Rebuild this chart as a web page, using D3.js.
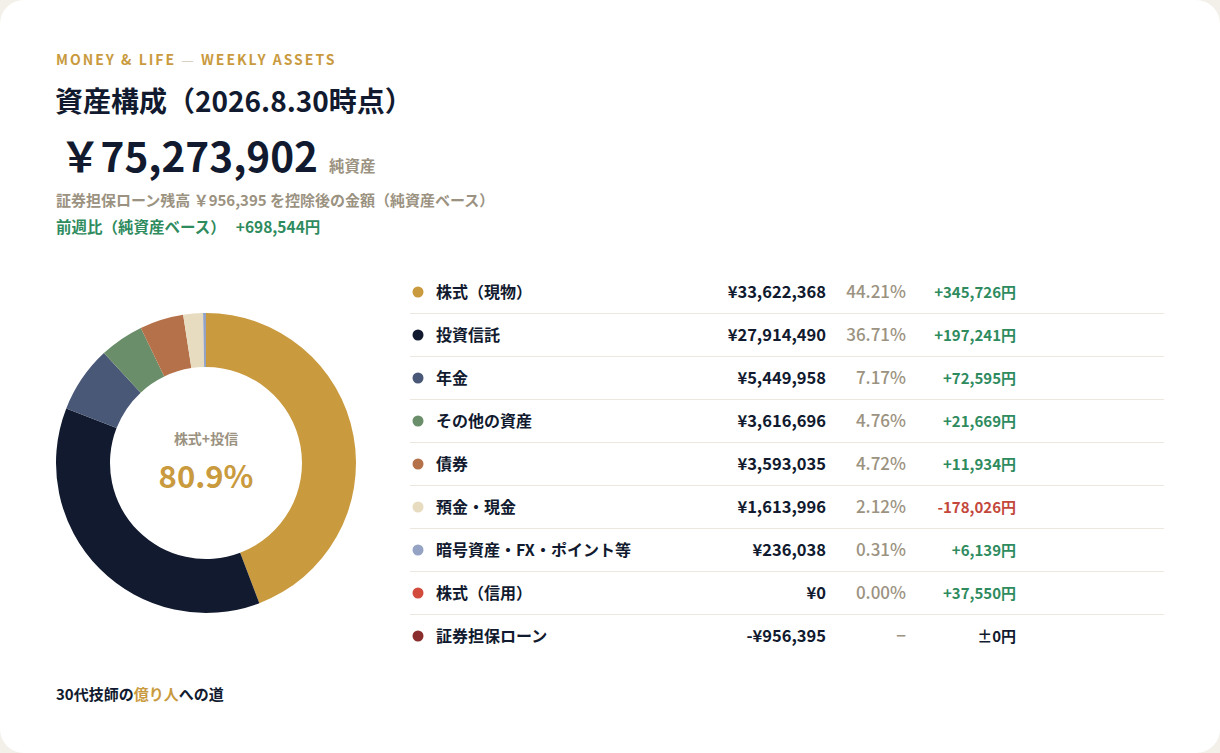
<!DOCTYPE html>
<html>
<head>
<meta charset="utf-8">
<script src="https://cdn.jsdelivr.net/npm/d3@7"></script>
<style>
  body { margin: 0; background: #f3f0ea; }
  svg { display: block; font-family: "Noto Sans CJK JP", "Noto Sans", sans-serif; }
</style>
</head>
<body>
<div id="chart"></div>
<script>
// asset categories, current value and weekly change
const categories = ["株式（現物）", "投資信託", "年金", "その他の資産", "債券", "預金・現金", "暗号資産・FX・ポイント等", "株式（信用）", "証券担保ローン"];
const values = [33622368, 27914490, 5449958, 3616696, 3593035, 1613996, 236038, 0, -956395];
const changes = [345726, 197241, 72595, 21669, 11934, -178026, 6139, 37550, 0];
const colors = ["#c99a3e", "#111a2e", "#4a5878", "#6a8e69", "#b5724a", "#e8dcc0", "#94a2c4", "#d24b3d", "#8a2d2f"];

const netAssets = 75273902;
const loanBalance = 956395;
const weeklyDiff = 698544;

const W = 1220, H = 753;
const svg = d3.select("#chart").append("svg")
    .attr("width", W)
    .attr("height", H);

svg.append("rect")
    .attr("width", W).attr("height", H)
    .attr("rx", 24)
    .attr("fill", "#ffffff");

const fmt = d3.format(",");
const gold = "#c99a3e", ink = "#111a2e", grey = "#9b9281", green = "#2e8b5e", red = "#c4473b";

// header
const head = svg.append("text")
    .attr("x", 56).attr("y", 65)
    .attr("font-size", 14).attr("font-weight", 700)
    .attr("letter-spacing", 2)
    .attr("fill", gold);
head.append("tspan").text("MONEY & LIFE");
head.append("tspan").attr("fill", "#d9d2c4").attr("font-weight", 400).text(" — ");
head.append("tspan").text("WEEKLY ASSETS");

svg.append("text")
    .attr("x", 55).attr("y", 112)
    .attr("font-size", 28).attr("font-weight", 700)
    .attr("fill", ink)
    .text("資産構成（2026.8.30時点）");

const big = svg.append("text")
    .attr("x", 60).attr("y", 172)
    .attr("fill", ink);
big.append("tspan")
    .attr("font-size", 40.5).attr("font-weight", 700)
    .text("￥" + fmt(netAssets));
big.append("tspan")
    .attr("dx", 11)
    .attr("font-size", 15.5).attr("font-weight", 700)
    .attr("fill", grey)
    .text("純資産");

svg.append("text")
    .attr("x", 56).attr("y", 206)
    .attr("font-size", 15).attr("font-weight", 700)
    .attr("fill", grey)
    .text("証券担保ローン残高 ￥" + fmt(loanBalance) + " を控除後の金額（純資産ベース）");

const diff = svg.append("text")
    .attr("x", 56).attr("y", 233)
    .attr("font-size", 15.5).attr("font-weight", 700)
    .attr("fill", green);
diff.append("tspan").text("前週比（純資産ベース）");
diff.append("tspan").attr("dx", 10).text("+" + fmt(weeklyDiff) + "円");

// donut
const pieData = categories.map((c, i) => ({ name: c, value: values[i], color: colors[i] }))
    .filter(d => d.value > 0);
const total = d3.sum(pieData, d => d.value);

const pie = d3.pie().sort(null).value(d => d.value);
const arc = d3.arc().innerRadius(96).outerRadius(150);

const donut = svg.append("g").attr("transform", "translate(206,463)");
donut.selectAll("path")
    .data(pie(pieData))
    .join("path")
    .attr("d", arc)
    .attr("fill", d => d.data.color);

donut.append("text")
    .attr("y", -19)
    .attr("text-anchor", "middle")
    .attr("font-size", 14).attr("font-weight", 700)
    .attr("fill", grey)
    .text("株式+投信");

donut.append("text")
    .attr("y", 25)
    .attr("text-anchor", "middle")
    .attr("font-size", 31).attr("font-weight", 700)
    .attr("fill", gold)
    .text(d3.format(".1%")((values[0] + values[1]) / total));

// table
const y = d3.scalePoint().domain(categories).range([292, 636]);
const rows = svg.append("g").selectAll("g")
    .data(categories)
    .join("g")
    .attr("transform", d => "translate(0," + y(d) + ")");

rows.filter((d, i) => i < categories.length - 1)
    .append("line")
    .attr("x1", 410).attr("x2", 1164)
    .attr("y1", 21.5).attr("y2", 21.5)
    .attr("stroke", "#ece8df").attr("stroke-width", 1);

rows.append("circle")
    .attr("cx", 418).attr("cy", 0).attr("r", 5.5)
    .attr("fill", (d, i) => colors[i]);

rows.append("text")
    .attr("x", 436).attr("y", 6)
    .attr("font-size", 16).attr("font-weight", 700)
    .attr("fill", ink)
    .text(d => d);

rows.append("text")
    .attr("x", 826).attr("y", 6)
    .attr("text-anchor", "end")
    .attr("font-size", 16.5).attr("font-weight", 700)
    .attr("fill", ink)
    .text((d, i) => (values[i] < 0 ? "-¥" : "¥") + fmt(Math.abs(values[i])));

rows.append("text")
    .attr("x", 906).attr("y", 6)
    .attr("text-anchor", "end")
    .attr("font-size", 17).attr("font-weight", 500)
    .attr("fill", grey)
    .text((d, i) => values[i] < 0 ? "−" : d3.format(".2%")(values[i] / total));

rows.append("text")
    .attr("x", 1016).attr("y", 6)
    .attr("text-anchor", "end")
    .attr("font-size", 15).attr("font-weight", 700)
    .attr("fill", (d, i) => changes[i] > 0 ? green : changes[i] < 0 ? red : ink)
    .text((d, i) => (changes[i] > 0 ? "+" : changes[i] < 0 ? "-" : "±") + fmt(Math.abs(changes[i])) + "円");

// footer
const foot = svg.append("text")
    .attr("x", 56).attr("y", 700)
    .attr("font-size", 15).attr("font-weight", 700)
    .attr("fill", ink);
foot.append("tspan").text("30代技師の");
foot.append("tspan").attr("fill", gold).text("億り人");
foot.append("tspan").text("への道");
</script>
</body>
</html>
